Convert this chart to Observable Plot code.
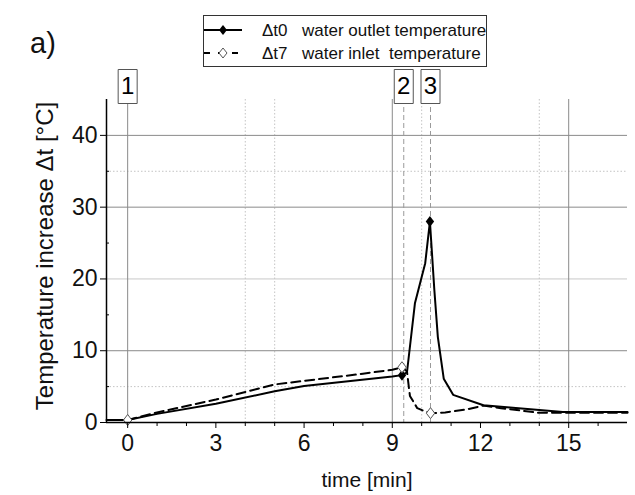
<!DOCTYPE html>
<html>
<head>
<meta charset="utf-8">
<script src="https://cdn.jsdelivr.net/npm/d3@7"></script>
<script src="https://cdn.jsdelivr.net/npm/@observablehq/plot@0.6"></script>
<style>
  html, body { margin: 0; padding: 0; background: #fff; }
  #wrap { position: relative; width: 635px; height: 495px; font-family: "Liberation Sans", Arial, sans-serif; color: #111; }
  #wrap svg { position: absolute; left: 0; top: 0; }
  .panel { position: absolute; left: 30px; top: 29px; font-size: 29px; line-height: 1; }
  .legend { position: absolute; left: 203px; top: 15px; width: 282px; height: 50px; border: 1px solid #333; background: #fff; font-size: 17px; }
  .row { position: absolute; left: 0; height: 22px; width: 100%; }
  .row svg { position: absolute; left: 6px; top: 2px; }
  .row .sym { position: absolute; left: 58px; top: 1px; }
  .row .txt { position: absolute; left: 98px; top: 1px; white-space: pre; }
</style>
</head>
<body>
<div id="wrap">
  <div class="panel">a)</div>
  <div class="legend">
    <div class="row" style="top:4px">
      <svg width="40" height="20"><line x1="0" y1="10" x2="38" y2="10" stroke="#000" stroke-width="2"/><path d="M19,5 L23,10 L19,15 L15,10 Z" fill="#000"/></svg>
      <span class="sym">Δt0</span><span class="txt">water outlet temperature</span>
    </div>
    <div class="row" style="top:27px">
      <svg width="40" height="20"><line x1="0" y1="10" x2="38" y2="10" stroke="#000" stroke-width="2" stroke-dasharray="6,8"/><path d="M19,5 L23,10 L19,15 L15,10 Z" fill="#fff" stroke="#555"/></svg>
      <span class="sym">Δt7</span><span class="txt">water inlet  temperature</span>
    </div>
  </div>
</div>
<script>
// ---- data ----
const outletTime = [-0.72, 0, 1, 3, 5, 6, 9, 9.33, 9.5, 9.77, 10.12, 10.28, 10.43, 10.55, 10.75, 11.07, 12.1, 13, 14, 14.8, 17];
const outletTemp = [0.35, 0.35, 1.2, 2.6, 4.35, 5.1, 6.4, 6.6, 7.0, 16.6, 22.2, 28.0, 18.5, 11.9, 6.1, 3.85, 2.4, 2.1, 1.75, 1.45, 1.45];
const inletTime = [0, 1, 2, 3, 5, 6, 8, 9, 9.33, 9.5, 9.6, 9.85, 10.05, 10.3, 10.8, 11.5, 12.1, 12.7, 14, 15, 17];
const inletTemp = [0.35, 1.4, 2.3, 3.2, 5.3, 5.8, 6.8, 7.35, 7.7, 7.1, 3.7, 2.0, 1.65, 1.3, 1.4, 1.8, 2.35, 2.0, 1.35, 1.35, 1.35];
const outletMarkTime = [9.33, 10.28];
const outletMarkTemp = [6.6, 28.0];
const inletMarkTime = [0, 9.33, 10.3];
const inletMarkTemp = [0.35, 7.7, 1.3];
const eventTime = [0, 9.39, 10.3];
const eventLabel = ["1", "2", "3"];
const xTicks = [0, 3, 6, 9, 12, 15];
const xMinorTicks = [1, 2, 4, 5, 7, 8, 10, 11, 13, 14, 16];
const yTicks = [0, 10, 20, 30, 40];
const yMinorTicks = [5, 15, 25, 35];
const xGridSolid = [9, 15];
const xGridDotted = [4, 5, 10, 14];
const yGridSolid = [10, 30, 40];
const yGridLight = [20];
const yGridDotted = [5, 35];
const xDomain = [-0.72, 17];
const yDomain = [0, 45];

const outlet = outletTime.map((t, i) => ({t, v: outletTemp[i]}));
const inlet = inletTime.map((t, i) => ({t, v: inletTemp[i]}));
const outletMarks = outletMarkTime.map((t, i) => ({t, v: outletMarkTemp[i]}));
const inletMarks = inletMarkTime.map((t, i) => ({t, v: inletMarkTemp[i]}));
const events = eventTime.map((t, i) => ({t, label: eventLabel[i]}));

const boxSymbol = { draw(ctx) { ctx.rect(-9.5, -17, 19, 34); } };
const diamondSymbol = { draw(ctx) { ctx.moveTo(0, -5.5); ctx.lineTo(4.2, 0); ctx.lineTo(0, 5.5); ctx.lineTo(-4.2, 0); ctx.closePath(); } };

const chart = Plot.plot({
  width: 635, height: 495,
  marginLeft: 106, marginRight: 8, marginTop: 99, marginBottom: 73,
  x: { domain: xDomain, axis: null },
  y: { domain: yDomain, axis: null },
  style: { fontFamily: '"Liberation Sans", Arial, sans-serif', fontSize: "22px", color: "#111", background: "transparent" },
  marks: [
    Plot.ruleY(yGridDotted, { stroke: "#c4c4c4", strokeDasharray: "1.5,2" }),
    Plot.ruleX(xGridDotted, { stroke: "#c4c4c4", strokeDasharray: "1.5,2" }),
    Plot.ruleY(yGridLight, { stroke: "#c8c8c8" }),
    Plot.ruleY(yGridSolid, { stroke: "#8a8a8a" }),
    Plot.ruleX(xGridSolid, { stroke: "#8a8a8a" }),
    Plot.ruleX(events.slice(0, 1), { x: "t", stroke: "#8a8a8a" }),
    Plot.ruleX(events.slice(1), { x: "t", stroke: "#9a9a9a", strokeDasharray: "5,3" }),
    Plot.line(inlet, { x: "t", y: "v", stroke: "#000", strokeWidth: 2, strokeDasharray: "9,5" }),
    Plot.line(outlet, { x: "t", y: "v", stroke: "#000", strokeWidth: 2 }),
    Plot.dot(outletMarks, { x: "t", y: "v", symbol: diamondSymbol, fill: "#000" }),
    Plot.dot(inletMarks, { x: "t", y: "v", symbol: diamondSymbol, fill: "#fff", stroke: "#555", strokeWidth: 1 }),
    Plot.ruleY([yDomain[0]], { stroke: "#000", strokeWidth: 1.5 }),
    Plot.ruleX([xDomain[0]], { stroke: "#000", strokeWidth: 1.5 }),
    Plot.axisX(xTicks, { tickSize: 6, tickPadding: 6, label: null, fontSize: 23, stroke: "#000" }),
    Plot.axisX(xMinorTicks, { tickSize: 4, tickFormat: () => "", label: null, stroke: "#000" }),
    Plot.axisY(yTicks, { tickSize: 6, tickPadding: 3, label: null, fontSize: 23, stroke: "#000" }),
    Plot.axisY(yMinorTicks, { tickSize: -3, tickFormat: () => "", label: null, stroke: "#000" }),
    Plot.dot(events, { x: "t", frameAnchor: "top", dy: -13, symbol: boxSymbol, fill: "#fff", stroke: "#555", strokeWidth: 1 }),
    Plot.text(events, { x: "t", text: "label", frameAnchor: "top", lineAnchor: "middle", dy: -13, fontSize: 24, fill: "#000" }),
    Plot.text(["Temperature increase Δt [°C]"], { frameAnchor: "left", textAnchor: "middle", lineAnchor: "middle", dx: -61, dy: -5, rotate: -90, fontSize: 24, fill: "#111" }),
    Plot.text(["time [min]"], { frameAnchor: "bottom", lineAnchor: "middle", dy: 58, fontSize: 21, fill: "#111" })
  ]
});
document.getElementById("wrap").prepend(chart);
</script>
</body>
</html>
